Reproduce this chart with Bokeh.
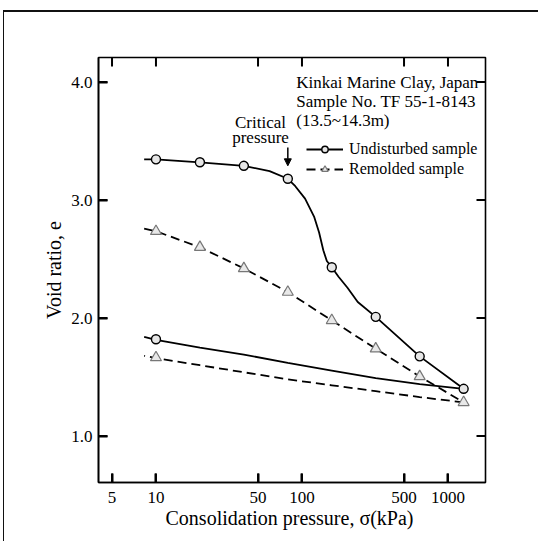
from bokeh.plotting import figure
from bokeh.models import (FixedTicker, Label, Arrow, NormalHead,
                          Legend, LegendItem, NumeralTickFormatter, Range1d)
from bokeh.embed import file_html
from bokeh.resources import INLINE

# ---------------- data ----------------
pressure = [10, 20, 40, 80, 160, 320, 640, 1280]
e_undisturbed = [3.345, 3.32, 3.29, 3.18, 2.43, 2.01, 1.675, 1.40]
e_remolded = [2.735, 2.60, 2.42, 2.22, 1.98, 1.74, 1.505, 1.285]

# traced loading curves (line only)
undist_curve_p = [8.3, 10, 20, 40, 60, 80, 90, 105, 121, 131, 140, 148, 160, 178, 205, 241, 320, 640, 1280]
undist_curve_e = [3.345, 3.345, 3.32, 3.29, 3.245, 3.18, 3.117, 3.012, 2.86, 2.725, 2.574, 2.483, 2.43,
                  2.35, 2.257, 2.136, 2.01, 1.675, 1.40]
remold_curve_p = [8.3, 10, 20, 40, 80, 160, 320, 640, 1280]
remold_curve_e = [2.757, 2.735, 2.60, 2.42, 2.22, 1.98, 1.74, 1.505, 1.285]

# traced unloading (rebound) curves
rebound_undist_p = [1280, 640, 320, 160, 80, 40, 20, 10, 8.3]
rebound_undist_e = [1.40, 1.44, 1.49, 1.555, 1.62, 1.69, 1.75, 1.815, 1.84]
rebound_remold_p = [1280, 640, 320, 160, 80, 40, 20, 10, 8.3]
rebound_remold_e = [1.285, 1.33, 1.38, 1.43, 1.48, 1.54, 1.60, 1.66, 1.68]

rebound_marker_p = [10]
rebound_undist_marker_e = [1.82]
rebound_remold_marker_e = [1.665]

x_ticks = [5, 10, 50, 100, 500, 1000]
y_ticks = [1.0, 2.0, 3.0, 4.0]

critical_pressure = 80

FONT = "Liberation Serif"
X_LO, X_HI = 4.04, 1807
Y_LO, Y_HI = 0.606, 4.208
W, H = 535, 531
BL, BT = 94, 45
FW, FH = 387, 425
BR, BB = W - BL - FW, H - BT - FH

p = figure(width=W, height=H, x_axis_type="log",
           x_range=Range1d(X_LO, X_HI), y_range=Range1d(Y_LO, Y_HI),
           output_backend="svg", toolbar_location=None,
           min_border_left=BL, min_border_right=BR, min_border_top=BT, min_border_bottom=BB)
p.styles = {"margin-left": "3px", "margin-top": "10px",
            "border-left": "1.5px solid #111", "border-top": "2px solid #111"}
p.grid.visible = False
p.outline_line_color = "black"
p.outline_line_width = 1.6
p.background_fill_alpha = 0


def style_axis(ax, ticks, fmt):
    ax.ticker = FixedTicker(ticks=ticks)
    ax.formatter = NumeralTickFormatter(format=fmt)
    ax.major_tick_in = 9
    ax.major_tick_out = 0
    ax.minor_tick_in = 0
    ax.minor_tick_out = 0
    ax.axis_line_color = "black"
    ax.axis_line_width = 1.6
    ax.major_tick_line_color = "black"
    ax.major_tick_line_width = 2
    ax.major_label_text_font = FONT
    ax.major_label_text_color = "black"
    ax.major_label_text_font_size = "17px"
    ax.axis_label_text_font = FONT
    ax.axis_label_text_font_style = "normal"
    ax.axis_label_text_color = "black"
    ax.axis_label_text_font_size = "20px"


xa = p.xaxis[0]
style_axis(xa, x_ticks, "0")
xa.major_label_standoff = 9
xa.axis_label = "Consolidation pressure,  σ(kPa)"
xa.axis_label_standoff = 1

ya = p.yaxis[0]
style_axis(ya, y_ticks, "0.0")
ya.major_label_standoff = 6
ya.axis_label = "Void ratio, e"
ya.axis_label_standoff = 3

# inward tick marks on all four sides
TL = 9
dy = (Y_HI - Y_LO) * TL / FH
fx = (X_HI / X_LO) ** (TL / FW)
nx, ny = len(x_ticks), len(y_ticks)
TK = dict(line_color="black", line_width=2)
p.segment(x_ticks, [Y_LO] * nx, x_ticks, [Y_LO + dy] * nx, **TK)
p.segment(x_ticks, [Y_HI] * nx, x_ticks, [Y_HI - dy] * nx, **TK)
p.segment([X_LO] * ny, y_ticks, [X_LO * fx] * ny, y_ticks, **TK)
p.segment([X_HI] * ny, y_ticks, [X_HI / fx] * ny, y_ticks, **TK)

# ---------------- curves ----------------
LW = 1.8
r_u_line = p.line(undist_curve_p, undist_curve_e, line_color="black", line_width=LW)
r_r_line = p.line(remold_curve_p, remold_curve_e, line_color="black", line_width=LW, line_dash="9 5")
p.line(rebound_undist_p, rebound_undist_e, line_color="black", line_width=LW)
p.line(rebound_remold_p, rebound_remold_e, line_color="black", line_width=LW, line_dash="9 5")

r_u_pts = p.scatter(pressure, e_undisturbed, marker="circle", size=9,
                    fill_color="#e6e6e6", line_color="black", line_width=1.4)
p.scatter(rebound_marker_p, rebound_undist_marker_e, marker="circle", size=9,
          fill_color="#e6e6e6", line_color="black", line_width=1.4)
r_r_pts = p.scatter(pressure, e_remolded, marker="triangle", size=11,
                    fill_color="#e8e8e8", line_color="#777777", line_width=1.2)
p.scatter(rebound_marker_p, rebound_remold_marker_e, marker="triangle", size=11,
          fill_color="#e8e8e8", line_color="#777777", line_width=1.2)

# ---------------- legend ----------------
legend = Legend(items=[LegendItem(label="Undisturbed sample", renderers=[r_u_line, r_u_pts]),
                       LegendItem(label="Remolded sample", renderers=[r_r_line, r_r_pts])],
                location=(208, 304), orientation="vertical",
                glyph_width=37, glyph_height=16, label_height=16, spacing=2,
                padding=0, margin=0, label_standoff=6,
                border_line_alpha=0, background_fill_alpha=0,
                label_text_font=FONT, label_text_font_size="16px", label_text_color="black")
p.add_layout(legend, "center")

# ---------------- annotations ----------------
for txt, yv in [("Kinkai Marine Clay, Japan", 3.994), ("Sample No. TF 55-1-8143", 3.839),
                ("(13.5~14.3m)", 3.67)]:
    p.add_layout(Label(x=91.4, y=yv, text=txt, text_font=FONT, text_font_size="17px",
                       text_baseline="middle", text_align="left", text_color="black"))

for txt, yv in [("Critical", 3.655), ("pressure", 3.528)]:
    p.add_layout(Label(x=52, y=yv, text=txt, text_font=FONT, text_font_size="17px",
                       text_baseline="middle", text_align="center", text_color="black"))

p.add_layout(Arrow(x_start=critical_pressure, y_start=3.445, x_end=critical_pressure, y_end=3.29,
                   line_width=1.5, line_color="black",
                   end=NormalHead(size=7, fill_color="black", line_color="black")))

open("out.html", "w").write(file_html(p, INLINE))
